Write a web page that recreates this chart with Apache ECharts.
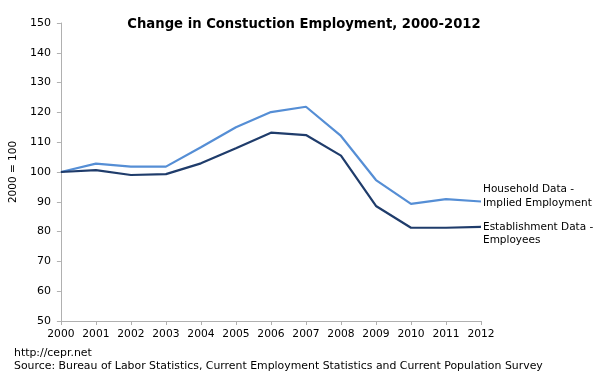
<!DOCTYPE html>
<html>
<head>
<meta charset="utf-8">
<script src="https://cdn.jsdelivr.net/npm/echarts@6/dist/echarts.min.js"></script>
<style>html,body{margin:0;padding:0;background:#fff}#c{width:599px;height:383px}</style>
</head>
<body>
<div id="c"></div>
<script>
var years = ['2000','2001','2002','2003','2004','2005','2006','2007','2008','2009','2010','2011','2012'];
var household = [100, 102.8, 101.8, 101.8, 108.3, 115.0, 120.1, 121.9, 112.1, 97.3, 89.3, 90.9, 90.1];
var establishment = [100, 100.6, 99.0, 99.3, 102.9, 108.0, 113.2, 112.4, 105.5, 88.6, 81.3, 81.3, 81.6];
var householdName = 'Household Data -\nImplied Employment';
var establishmentName = 'Establishment Data -\nEmployees';
var titleText = 'Change in Constuction Employment, 2000-2012';
var yName = '2000 = 100';
var footer1 = 'http://cepr.net';
var footer2 = 'Source: Bureau of Labor Statistics, Current Employment Statistics and Current Population Survey';

var FONT = 'DejaVu Sans';
var chart = echarts.init(document.getElementById('c'));
chart.setOption({
  animation: false,
  backgroundColor: '#fff',
  title: {
    text: titleText, left: 299, textAlign: 'center', top: 13,
    textStyle: {fontFamily: FONT, fontSize: 13.2, fontWeight: 'bold', color: '#000'}
  },
  grid: {left: 57, right: 118, top: 23, bottom: 62},
  xAxis: {
    type: 'category', data: years, boundaryGap: false,
    axisLine: {lineStyle: {color: '#b0b0b0'}},
    axisTick: {show: true, length: 4, lineStyle: {color: '#b0b0b0'}},
    axisLabel: {fontFamily: FONT, fontSize: 10.7, color: '#000', margin: 8, interval: 0}
  },
  yAxis: {
    type: 'value', min: 50, max: 150, interval: 10,
    name: yName, nameLocation: 'middle', nameGap: 40, nameRotate: 90,
    nameTextStyle: {fontFamily: FONT, fontSize: 10.5, color: '#000'},
    axisLine: {show: true, lineStyle: {color: '#b0b0b0'}},
    axisTick: {show: true, length: 4, lineStyle: {color: '#b0b0b0'}},
    splitLine: {show: false},
    axisLabel: {fontFamily: FONT, fontSize: 11, color: '#000', margin: 10}
  },
  series: [
    {
      name: 'household', type: 'line', data: household, symbol: 'none',
      lineStyle: {width: 2.2, color: '#558ed5'}, itemStyle: {color: '#558ed5'},
      endLabel: {show: true, formatter: householdName, distance: 2, offset: [0, -5],
        fontFamily: FONT, fontSize: 10.5, color: '#000', lineHeight: 13.5, align: 'left', verticalAlign: 'middle'}
    },
    {
      name: 'establishment', type: 'line', data: establishment, symbol: 'none',
      lineStyle: {width: 2.2, color: '#1f3c6b'}, itemStyle: {color: '#1f3c6b'},
      endLabel: {show: true, formatter: establishmentName, distance: 2, offset: [0, 7],
        fontFamily: FONT, fontSize: 10.5, color: '#000', lineHeight: 13.5, align: 'left', verticalAlign: 'middle'}
    }
  ],
  graphic: [
    {type: 'text', left: 14, top: 348, style: {text: footer1, font: '10.9px "DejaVu Sans"', fill: '#000'}},
    {type: 'text', left: 14, top: 361, style: {text: footer2, font: '10.9px "DejaVu Sans"', fill: '#000'}}
  ]
});
</script>
</body>
</html>
